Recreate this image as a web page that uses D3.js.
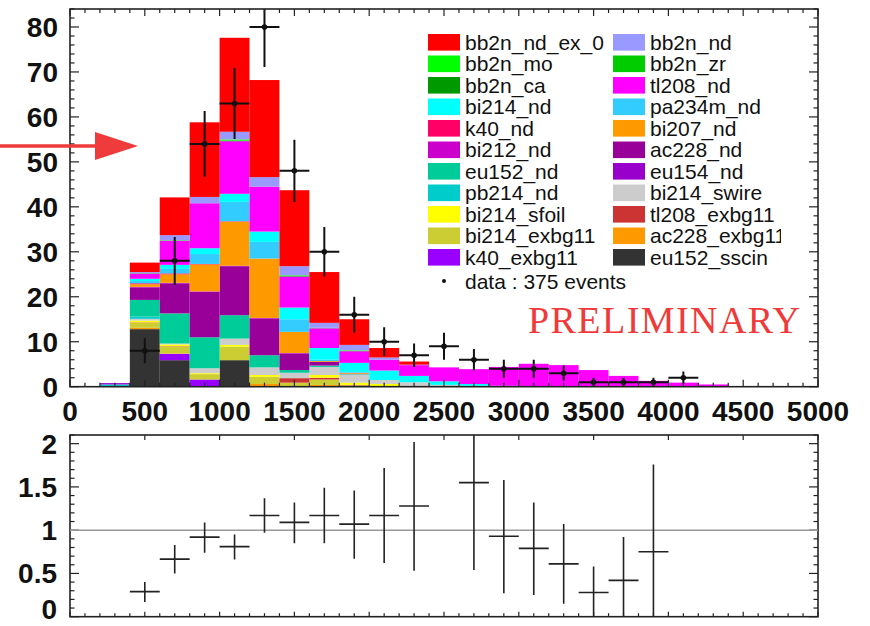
<!DOCTYPE html>
<html>
<head>
<meta charset="utf-8">
<script src="https://cdn.jsdelivr.net/npm/d3@7"></script>
<style>
  html, body { margin: 0; padding: 0; background: #fff; }
  svg { display: block; }
  .tick-label { font-family: "Liberation Sans", Arial, sans-serif; font-weight: bold; fill: #111; }
  .leg { font-family: "Liberation Sans", Arial, sans-serif; fill: #111; }
</style>
</head>
<body>
<svg id="chart" width="870" height="626"></svg>
<script>
// Energy bins (keV): left edges of 200 keV wide bins, 200 .. 4200
const binEdges = [200, 400, 600, 800, 1000, 1200, 1400, 1600, 1800, 2000, 2200, 2400, 2600, 2800, 3000, 3200, 3400, 3600, 3800, 4000, 4200];
const binWidth = 200;

// Monte Carlo components, stacked from the bottom up (counts per bin)
const eu152_sscin   = [0, 12.8, 5.9, 0, 5.9, 0, 0, 0, 0, 0, 0, 0, 0, 0, 0, 0, 0, 0, 0, 0, 0];
const k40_exbg11    = [0, 0, 1.4, 1.6, 0, 0, 0, 0, 0, 0, 0, 0, 0, 0, 0, 0, 0, 0, 0, 0, 0];
const ac228_exbg11  = [0, 0.3, 0.1, 0, 0, 0.6, 0, 0.4, 0, 0, 0, 0, 0, 0, 0, 0, 0, 0, 0, 0, 0];
const bi214_exbg11  = [0, 1.1, 1.5, 1.2, 3.0, 1.6, 0.9, 1.2, 0.3, 0, 0, 0, 0, 0, 0, 0, 0, 0, 0, 0, 0];
const tl208_exbg11  = [0, 0.1, 0.1, 0, 0, 0, 1.0, 0.4, 0.1, 0, 0, 0, 0, 0, 0, 0, 0, 0, 0, 0, 0];
const bi214_sfoil   = [0, 0.4, 0.4, 0.2, 0.4, 0.4, 0, 0.6, 0.5, 0.6, 0, 0, 0, 0, 0, 0, 0, 0, 0, 0, 0];
const bi214_swire   = [0, 0.4, 0.2, 1.1, 1.4, 1.7, 1.2, 1.8, 1.8, 0.9, 1.0, 0.4, 0.2, 0, 0, 0, 0, 0, 0, 0, 0];
const pb214_nd      = [0.5, 0.5, 0, 0, 0, 0, 0, 0, 0, 0, 0, 0, 0, 0, 0, 0, 0, 0, 0, 0, 0];
const eu154_nd      = [0.3, 0, 0, 0, 0, 0, 0, 0, 0, 0, 0, 0, 0, 0, 0, 0, 0, 0, 0, 0, 0];
const eu152_nd      = [0, 3.7, 6.7, 6.9, 5.2, 2.7, 0.6, 0.3, 0.1, 0, 0, 0, 0, 0, 0, 0, 0, 0, 0, 0, 0];
const ac228_nd      = [0, 2.8, 6.7, 10.1, 10.9, 8.2, 3.7, 0.8, 0.1, 0, 0, 0, 0, 0, 0, 0, 0, 0, 0, 0, 0];
const bi212_nd      = [0, 0.1, 0.1, 0.1, 0.1, 0.1, 0.1, 0, 0, 0, 0, 0, 0, 0, 0, 0, 0, 0, 0, 0, 0];
const bi207_nd      = [0, 0.6, 1.9, 6.0, 9.8, 13.2, 4.7, 0.2, 0.2, 0, 0, 0, 0, 0, 0, 0, 0, 0, 0, 0, 0];
const k40_nd        = [0, 0.2, 0.2, 0.1, 0.1, 0, 0, 0, 0, 0, 0, 0, 0, 0, 0, 0, 0, 0, 0, 0, 0];
const pa234m_nd     = [0, 0.5, 1.0, 2.2, 4.3, 3.7, 2.8, 0.3, 0.2, 0, 0, 0, 0, 0, 0, 0, 0, 0, 0, 0, 0];
const bi214_nd      = [0, 0.5, 0.9, 1.3, 1.8, 2.3, 2.6, 2.6, 2.0, 2.1, 1.4, 0.8, 0.4, 0.2, 0.1, 0.1, 0, 0, 0, 0, 0];
const tl208_nd      = [0, 1.2, 5.4, 10.0, 11.7, 10.0, 6.9, 4.4, 2.6, 2.4, 2.4, 3.1, 3.3, 4.2, 5.0, 4.7, 3.7, 2.4, 1.3, 0.9, 0.5];
const bb2n_ca       = [0, 0, 0, 0, 0.1, 0, 0.1, 0, 0, 0, 0, 0, 0, 0, 0, 0, 0, 0, 0, 0, 0];
const bb2n_zr       = [0, 0, 0, 0, 0.1, 0, 0.1, 0, 0.1, 0, 0, 0, 0, 0, 0, 0, 0, 0, 0, 0, 0];
const bb2n_mo       = [0, 0.1, 0.1, 0, 0.2, 0, 0.1, 0.1, 0.1, 0, 0, 0, 0, 0, 0, 0, 0, 0, 0, 0, 0];
const bb2n_nd       = [0, 0.2, 1.1, 1.4, 1.7, 2.1, 2.0, 1.1, 1.2, 0.5, 0.1, 0, 0, 0, 0, 0, 0, 0, 0, 0, 0];
const bb2n_nd_ex_0  = [0, 2.1, 8.4, 16.6, 20.9, 21.6, 16.9, 11.3, 5.7, 2.1, 0.7, 0, 0, 0, 0, 0, 0, 0, 0, 0, 0];

// Data: bin centres, counts and statistical errors
const dataX   = [500, 700, 900, 1100, 1300, 1500, 1700, 1900, 2100, 2300, 2500, 2700, 2900, 3100, 3300, 3500, 3700, 3900, 4100];
const dataY   = [8, 28, 54, 63, 80, 48, 30, 16, 10, 7, 9, 6, 4, 4, 3, 1, 1, 1, 2];
const dataErr = [2.8, 5.3, 7.3, 7.9, 8.9, 6.9, 5.5, 4.0, 3.2, 2.6, 3.0, 2.4, 2.0, 2.0, 1.7, 1.0, 1.0, 1.0, 1.4];

// Data / MC ratio with its error band limits (bins outside the plotted range are left out)
const ratioX  = [500, 700, 900, 1100, 1300, 1500, 1700, 1900, 2100, 2300, 2700, 2900, 3100, 3300, 3500, 3700, 3900];
const ratioY  = [0.29, 0.665, 0.92, 0.81, 1.17, 1.09, 1.17, 1.07, 1.17, 1.28, 1.55, 0.93, 0.79, 0.61, 0.28, 0.42, 0.75];
const ratioLo = [0.17, 0.50, 0.74, 0.66, 0.97, 0.85, 0.85, 0.67, 0.62, 0.53, 0.54, 0.27, 0.25, 0.15, 0.0, 0.0, 0.0];
const ratioHi = [0.40, 0.83, 1.09, 0.95, 1.37, 1.32, 1.49, 1.46, 1.72, 2.02, 2.18, 1.58, 1.32, 1.07, 0.58, 0.92, 1.76];

// Axis tick labels
const xTicks      = [0, 500, 1000, 1500, 2000, 2500, 3000, 3500, 4000, 4500, 5000];
const yTicks      = [0, 10, 20, 30, 40, 50, 60, 70, 80];
const ratioTicks  = [0, 0.5, 1, 1.5, 2];
const ratioLabels = ["0", "0.5", "1", "1.5", "2"];

// Stack order, bottom to top, with fill colours
const components = [
  { name: "eu152_sscin",  values: eu152_sscin,  color: "#333333" },
  { name: "k40_exbg11",   values: k40_exbg11,   color: "#9900ff" },
  { name: "ac228_exbg11", values: ac228_exbg11, color: "#ff9900" },
  { name: "bi214_exbg11", values: bi214_exbg11, color: "#cccc33" },
  { name: "tl208_exbg11", values: tl208_exbg11, color: "#cc3333" },
  { name: "bi214_sfoil",  values: bi214_sfoil,  color: "#ffff00" },
  { name: "bi214_swire",  values: bi214_swire,  color: "#cccccc" },
  { name: "pb214_nd",     values: pb214_nd,     color: "#00cccc" },
  { name: "eu154_nd",     values: eu154_nd,     color: "#9900cc" },
  { name: "eu152_nd",     values: eu152_nd,     color: "#00cc99" },
  { name: "ac228_nd",     values: ac228_nd,     color: "#990099" },
  { name: "bi212_nd",     values: bi212_nd,     color: "#cc00cc" },
  { name: "bi207_nd",     values: bi207_nd,     color: "#ff9900" },
  { name: "k40_nd",       values: k40_nd,       color: "#ff0066" },
  { name: "pa234m_nd",    values: pa234m_nd,    color: "#33ccff" },
  { name: "bi214_nd",     values: bi214_nd,     color: "#00ffff" },
  { name: "tl208_nd",     values: tl208_nd,     color: "#ff00ff" },
  { name: "bb2n_ca",      values: bb2n_ca,      color: "#009900" },
  { name: "bb2n_zr",      values: bb2n_zr,      color: "#00cc00" },
  { name: "bb2n_mo",      values: bb2n_mo,      color: "#00ff00" },
  { name: "bb2n_nd",      values: bb2n_nd,      color: "#9999ff" },
  { name: "bb2n_nd_ex_0", values: bb2n_nd_ex_0, color: "#ff0000" }
];

// Legend: two columns, filled row by row
const legendOrder = [
  "bb2n_nd_ex_0", "bb2n_nd", "bb2n_mo", "bb2n_zr", "bb2n_ca", "tl208_nd",
  "bi214_nd", "pa234m_nd", "k40_nd", "bi207_nd", "bi212_nd", "ac228_nd",
  "eu152_nd", "eu154_nd", "pb214_nd", "bi214_swire", "bi214_sfoil", "tl208_exbg11",
  "bi214_exbg11", "ac228_exbg11", "k40_exbg11", "eu152_sscin"
];
const dataLabel = "data : 375 events";

const svg = d3.select("#chart");

// Layout of the two pads
const padTop = { x0: 70, x1: 818, y0: 9, y1: 386.7 };
const padBot = { x0: 70, x1: 818, y0: 435, y1: 616.7 };

const x = d3.scaleLinear().domain([0, 5000]).range([padTop.x0, padTop.x1]);
const y = d3.scaleLinear().domain([0, 84]).range([padTop.y1, padTop.y0]);
const yr = d3.scaleLinear().domain([0, 2.1]).range([padBot.y1, padBot.y0]);

const labelSize = 28;

// ---------- stacked histogram ----------
const rows = binEdges.map((e, i) => {
  const r = { edge: e };
  components.forEach(c => { r[c.name] = c.values[i]; });
  return r;
});
const stack = d3.stack().keys(components.map(c => c.name))(rows);
const colorOf = Object.fromEntries(components.map(c => [c.name, c.color]));

svg.append("clipPath").attr("id", "clipTop")
  .append("rect").attr("x", padTop.x0).attr("y", padTop.y0)
  .attr("width", padTop.x1 - padTop.x0).attr("height", padTop.y1 - padTop.y0);

const gStack = svg.append("g").attr("clip-path", "url(#clipTop)");
stack.forEach(layer => {
  gStack.append("g").attr("fill", colorOf[layer.key])
    .selectAll("rect")
    .data(layer.filter(d => d[1] - d[0] > 0))
    .join("rect")
    .attr("x", d => x(d.data.edge))
    .attr("width", d => x(d.data.edge + binWidth) - x(d.data.edge))
    .attr("y", d => y(d[1]))
    .attr("height", d => y(d[0]) - y(d[1]));
});

// ---------- data points ----------
const gData = svg.append("g").attr("clip-path", "url(#clipTop)")
  .attr("stroke", "#111").attr("stroke-width", 2);
dataX.forEach((cx, i) => {
  gData.append("line")
    .attr("x1", x(cx - binWidth / 2)).attr("x2", x(cx + binWidth / 2))
    .attr("y1", y(dataY[i])).attr("y2", y(dataY[i]));
  gData.append("line")
    .attr("x1", x(cx)).attr("x2", x(cx))
    .attr("y1", y(dataY[i] - dataErr[i])).attr("y2", y(dataY[i] + dataErr[i]));
  gData.append("circle")
    .attr("cx", x(cx)).attr("cy", y(dataY[i])).attr("r", 2.8)
    .attr("fill", "#111").attr("stroke", "none");
});

// ---------- frames and ticks ----------
function frame(p) {
  svg.append("rect").attr("x", p.x0).attr("y", p.y0)
    .attr("width", p.x1 - p.x0).attr("height", p.y1 - p.y0)
    .attr("fill", "none").attr("stroke", "#222").attr("stroke-width", 1.6);
}

function xTickMarks(p, majLen, minLen, topMinor) {
  const g = svg.append("g").attr("stroke", "#222").attr("stroke-width", 1.2);
  d3.range(0, 5001, 100).forEach(v => {
    const major = v % 500 === 0;
    const L = major ? majLen : minLen;
    g.append("line").attr("x1", x(v)).attr("x2", x(v)).attr("y1", p.y1).attr("y2", p.y1 - L);
    if (major || topMinor)
      g.append("line").attr("x1", x(v)).attr("x2", x(v)).attr("y1", p.y0).attr("y2", p.y0 + L);
  });
}

function yTickMarks(p, scale, values, isMajor, majLen, minLen) {
  const g = svg.append("g").attr("stroke", "#222").attr("stroke-width", 1.2);
  values.forEach(v => {
    const L = isMajor(v) ? majLen : minLen;
    const yy = scale(v);
    g.append("line").attr("x1", p.x0).attr("x2", p.x0 + L).attr("y1", yy).attr("y2", yy);
    g.append("line").attr("x1", p.x1).attr("x2", p.x1 - L).attr("y1", yy).attr("y2", yy);
  });
}

frame(padTop);
xTickMarks(padTop, 7, 4, true);
yTickMarks(padTop, y, d3.range(0, 84.01, 2), v => v % 10 === 0, 9, 4.5);

// tick labels, upper pad
svg.append("g").selectAll("text").data(yTicks).join("text")
  .attr("class", "tick-label")
  .attr("x", 58).attr("y", d => y(d) + 10)
  .attr("text-anchor", "end")
  .attr("font-size", labelSize)
  .text(d => d);

svg.append("g").selectAll("text").data(xTicks).join("text")
  .attr("class", "tick-label")
  .attr("x", d => x(d)).attr("y", 421)
  .attr("text-anchor", "middle")
  .attr("font-size", labelSize)
  .text(d => d);

// ---------- ratio pad ----------
frame(padBot);
xTickMarks(padBot, 5, 3.5, false);
yTickMarks(padBot, yr, d3.range(0, 2.101, 0.1).map(v => Math.round(v * 10) / 10),
  v => Math.abs(v * 2 - Math.round(v * 2)) < 1e-6, 9, 4.5);

svg.append("line")
  .attr("x1", padBot.x0).attr("x2", padBot.x1)
  .attr("y1", yr(1)).attr("y2", yr(1))
  .attr("stroke", "#999").attr("stroke-width", 1.5);

svg.append("clipPath").attr("id", "clipBot")
  .append("rect").attr("x", padBot.x0).attr("y", padBot.y0)
  .attr("width", padBot.x1 - padBot.x0).attr("height", padBot.y1 - padBot.y0);

const gRatio = svg.append("g").attr("clip-path", "url(#clipBot)")
  .attr("stroke", "#222").attr("stroke-width", 1.6);
ratioX.forEach((cx, i) => {
  gRatio.append("line")
    .attr("x1", x(cx - binWidth / 2)).attr("x2", x(cx + binWidth / 2))
    .attr("y1", yr(ratioY[i])).attr("y2", yr(ratioY[i]));
  gRatio.append("line")
    .attr("x1", x(cx)).attr("x2", x(cx))
    .attr("y1", yr(ratioLo[i])).attr("y2", yr(ratioHi[i]));
});

// the lowest label is lifted to stay inside the canvas
svg.append("g").selectAll("text").data(ratioTicks).join("text")
  .attr("class", "tick-label")
  .attr("x", 57).attr("y", d => Math.min(yr(d) + 10, 619))
  .attr("text-anchor", "end")
  .attr("font-size", labelSize)
  .text((d, i) => ratioLabels[i]);

// ---------- legend ----------
svg.append("clipPath").attr("id", "clipLegend")
  .append("rect").attr("x", 420).attr("y", 20).attr("width", 361).attr("height", 280);

const leg = svg.append("g").attr("clip-path", "url(#clipLegend)");
const rowH = 21.5;
legendOrder.forEach((name, i) => {
  const col = i % 2, row = Math.floor(i / 2);
  const lx = col === 0 ? 428 : 613;
  const cy = 42.3 + row * rowH;
  leg.append("rect").attr("x", lx).attr("y", cy - 8.3).attr("width", 32).attr("height", 16.6)
    .attr("fill", colorOf[name]);
  leg.append("text").attr("class", "leg")
    .attr("x", lx + 37).attr("y", cy + 7.5)
    .attr("font-size", 21).text(name);
});
const dataRowY = 281;
leg.append("circle").attr("cx", 444).attr("cy", dataRowY).attr("r", 2).attr("fill", "#111");
leg.append("text").attr("class", "leg")
  .attr("x", 465).attr("y", dataRowY + 7.5)
  .attr("font-size", 21).text(dataLabel);

// ---------- annotations ----------
svg.append("text")
  .attr("x", 528).attr("y", 333)
  .attr("font-family", "'Liberation Serif', 'Times New Roman', serif")
  .attr("font-size", 38)
  .attr("fill", "#f03a3a")
  .attr("textLength", 272)
  .text("PRELIMINARY");

const arrow = svg.append("g").attr("fill", "#ef3b3b").attr("stroke", "#ef3b3b");
arrow.append("line").attr("x1", 0).attr("x2", 100).attr("y1", 146).attr("y2", 146)
  .attr("stroke-width", 3.5);
arrow.append("path").attr("d", "M95,132 L138,146 L95,160 Z").attr("stroke", "none");
</script>
</body>
</html>
